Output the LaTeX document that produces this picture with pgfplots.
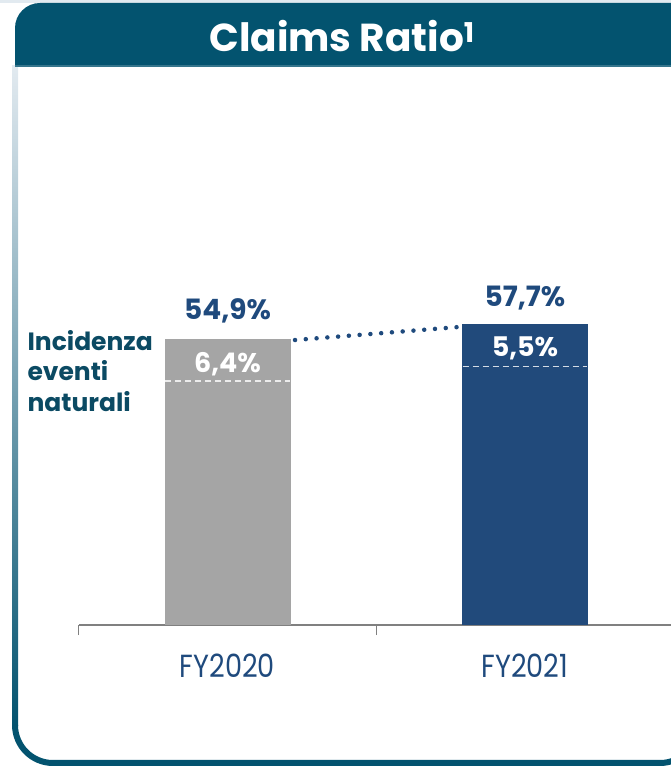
\documentclass[border=0pt]{standalone}
\usepackage{fontspec}
\setmainfont{Poppins}
\newfontfamily\fyfont{Poppins}[FakeStretch=0.85]
\usepackage{pgfplots}
\pgfplotsset{compat=1.18}
\definecolor{hdr}{HTML}{03536F}
\definecolor{framelight}{HTML}{E2EAF0}
\definecolor{framemid}{HTML}{8FAEC0}
\definecolor{navybar}{HTML}{214A7B}
\definecolor{graybar}{HTML}{A5A5A5}
\definecolor{lbl}{HTML}{1F4A7D}
\definecolor{teal}{HTML}{0B4A63}
\definecolor{axisgray}{HTML}{808080}

\begin{document}
\begin{tikzpicture}[x=1pt,y=1pt]
\begin{scope}
\clip (0,0) rectangle (671,766);

% frame
\fill[framelight] (0,763) rectangle (671,766);
\shade[top color=framelight, middle color=framemid, bottom color=hdr] (12,40) rectangle (18,700);
\draw[hdr, line width=6pt] (15,41) arc[start angle=180, end angle=270, radius=38]
  -- (660,3) arc[start angle=270, end angle=360, radius=38] -- (698,80);

% header
\fill[hdr] (15,699) -- (15,738) arc[start angle=180, end angle=90, radius=25] -- (700,763) -- (700,699) -- cycle;
\fill[hdr!80!white] (15,699) rectangle (700,701);
\node[anchor=base, text=white, font=\fontsize{39}{39}\selectfont\bfseries] at (342,714) {Claims Ratio\textsuperscript{1}};

% left annotation
\node[anchor=base west, text=teal, font=\fontsize{25}{25}\selectfont\bfseries] at (24,415) {Incidenza};
\node[anchor=base west, text=teal, font=\fontsize{25}{25}\selectfont\bfseries] at (24,385) {eventi};
\node[anchor=base west, text=teal, font=\fontsize{25}{25}\selectfont\bfseries] at (24,354) {naturali};

\begin{axis}[
  at={(78.75pt,141pt)}, anchor=south west,
  x=297.5pt, y=5.21pt,
  xmin=-0.5, xmax=1.5, ymin=0, ymax=60,
  axis x line=bottom, axis y line=none,
  x axis line style={draw=axisgray, line width=1.3pt, -},
  xtick={0,1}, xticklabels={FY2020,FY2021},
  major x tick style={draw=none},
  minor xtick={-0.5,0.5,1.5},
  minor tick length=10pt, tick align=outside,
  minor x tick style={draw=axisgray, line width=1.3pt},
  xticklabel style={font=\fyfont\fontsize{32}{32}\selectfont, text=lbl, anchor=base, yshift=-48pt},
  clip=false,
]
\addplot[ybar, bar width=126pt, bar shift=0pt, fill=graybar, draw=none] coordinates {(0,54.9)};
\addplot[ybar, bar width=126pt, bar shift=0pt, fill=navybar, draw=none] coordinates {(1,57.7)};

\addplot[draw=white!85!gray, line width=1.4pt, dash pattern=on 6pt off 4pt] coordinates {(-0.21,46.84) (0.21,46.84)};
\addplot[draw=white!80!navybar, line width=1.4pt, dash pattern=on 6pt off 4pt] coordinates {(0.79,49.64) (1.21,49.64)};

\addplot[draw=lbl, line width=4.5pt, line cap=round, dash pattern=on 0pt off 10.8pt] coordinates {(0.227,54.7) (0.778,57.2)};

\node[anchor=base, text=lbl, font=\fontsize{28}{28}\selectfont\bfseries] at ([yshift=19pt]axis cs:0,54.9) {54,9\%};
\node[anchor=base, text=lbl, font=\fontsize{28}{28}\selectfont\bfseries] at ([yshift=18pt]axis cs:1,57.7) {57,7\%};
\node[anchor=base, text=white, font=\fontsize{27}{27}\selectfont\bfseries] at ([yshift=-34pt]axis cs:0,54.9) {6,4\%};
\node[anchor=base, text=white, font=\fontsize{27}{27}\selectfont\bfseries] at ([yshift=-32pt]axis cs:1,57.7) {5,5\%};
\end{axis}
\end{scope}
\pgfresetboundingbox
\path[use as bounding box] (0,0) rectangle (671,766);
\end{tikzpicture}
\end{document}
